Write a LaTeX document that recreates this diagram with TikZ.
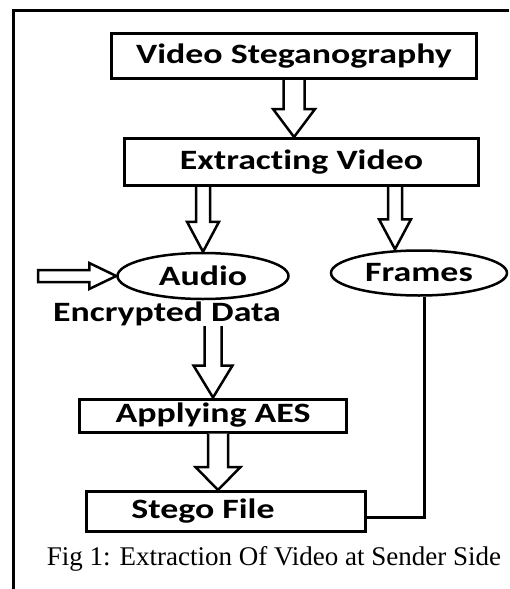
\documentclass[tikz,border=0pt]{standalone}
\usepackage{fontspec}
\usepackage{tikz}
\usetikzlibrary{calc,shapes.geometric}
\newfontfamily\boxfont[FakeStretch=1.28,Ligatures=NoCommon]{Carlito}
\newfontfamily\capfont{Liberation Serif}

% hollow block arrow going down: from, to, shaft half width, head half width, head length
\newcommand\downblock[5]{%
  \draw[blockarrow] let \p1=(#1), \p2=(#2) in
    (\x1-#3pt,\y1) -- (\x1-#3pt,\y2+#5pt) -- (\x1-#4pt,\y2+#5pt) -- (\x1,\y2)
    -- (\x1+#4pt,\y2+#5pt) -- (\x1+#3pt,\y2+#5pt) -- (\x1+#3pt,\y1);
}
% hollow block arrow going right
\newcommand\rightblock[5]{%
  \draw[blockarrow] let \p1=(#1), \p2=(#2) in
    (\x1,\y2+#3pt) -- (\x2-#5pt,\y2+#3pt) -- (\x2-#5pt,\y2+#4pt) -- (\x2,\y2)
    -- (\x2-#5pt,\y2-#4pt) -- (\x2-#5pt,\y2-#3pt) -- (\x1,\y2-#3pt) -- cycle;
}

\begin{document}
\begin{tikzpicture}[x=1pt,y=-1pt,
  box/.style={draw,line width=3pt,rectangle,inner sep=0pt,
    font=\boxfont\bfseries\fontsize{28}{32}\selectfont},
  oval/.style={draw,line width=2.5pt,ellipse,inner sep=0pt,
    font=\boxfont\bfseries\fontsize{28}{32}\selectfont},
  blockarrow/.style={draw,line width=2.5pt,fill=white,line join=miter}]
  \useasboundingbox (0,0) rectangle (509,589);

  % outer frame
  \draw[line width=3pt] (13,589) -- (13,10) -- (509,10);

  \node [box,minimum width=365pt,minimum height=45pt] (vs) at (294,56) {Video Steganography};
  \node [box,minimum width=354pt,minimum height=47pt] (ev) at (301.5,162) {Extracting Video};
  \node [oval,minimum width=171pt,minimum height=46pt] (audio) at (203,276) {Audio};
  \node [oval,minimum width=176pt,minimum height=45pt] (frames) at (419,273) {Frames};
  \node [font=\boxfont\bfseries\fontsize{28}{32}\selectfont,inner sep=0pt] (enc) at (167,314) {Encrypted Data};
  \node [box,minimum width=267pt,minimum height=33pt] (aes) at (213,415.5) {Applying AES};
  \node [box,minimum width=279pt,minimum height=40pt] (stego) at (226,511.5) {Stego File\hspace*{46pt}};
  \node [font=\capfont\fontsize{27}{31}\selectfont,inner sep=0pt] (cap) at (274,559) {Fig 1: Extraction Of Video at Sender Side};

  \coordinate (in) at (38,276);

  \downblock{vs.south |- vs.south}{vs.south |- ev.north}{10.5}{21}{28}
  \downblock{audio.north |- ev.south}{audio.north}{7}{16}{30}
  \downblock{[xshift=-24pt]frames.north |- ev.south}{[xshift=-24pt]frames.north}{7}{16}{30}
  \rightblock{in}{audio.west}{6}{13}{27}
  \downblock{aes.north |- enc.south}{aes.north}{8.5}{19.5}{32}
  \downblock{[xshift=5pt]aes.south}{[xshift=5pt]aes.south |- stego.north}{10}{22.5}{23}

  \draw[line width=3pt] ([xshift=5pt]frames.south) |- ([yshift=-6pt]stego.east);
\end{tikzpicture}
\end{document}
